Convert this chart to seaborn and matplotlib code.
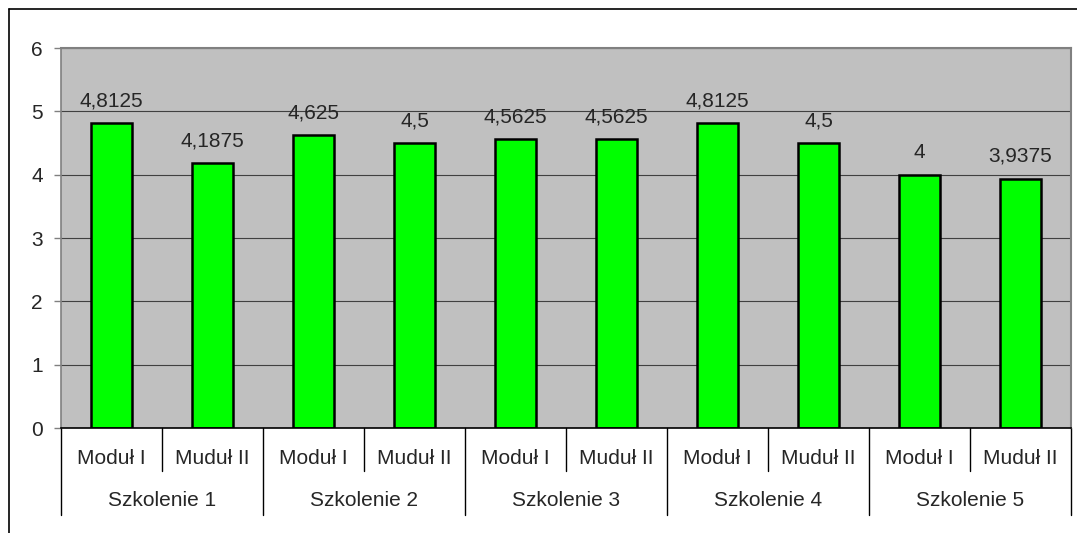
import pandas as pd
import matplotlib.pyplot as plt
import seaborn as sns

# dane
szkolenia = ['Szkolenie 1', 'Szkolenie 2', 'Szkolenie 3', 'Szkolenie 4', 'Szkolenie 5']
moduly = ['Moduł I', 'Muduł II']
wartosci = [4.8125, 4.1875, 4.625, 4.5, 4.5625, 4.5625, 4.8125, 4.5, 4.0, 3.9375]

kategorie = []
for s in szkolenia:
    for m in moduly:
        kategorie.append(s + ' / ' + m)

df = pd.DataFrame({'kategoria': kategorie, 'wartosc': wartosci})

sns.set_style('white')
plt.rcParams['font.family'] = ['Liberation Sans', 'DejaVu Sans']

fig = plt.figure(figsize=(10.77, 5.33), dpi=100)
ax = fig.add_axes([61 / 1077, 1 - 428 / 533, 1010 / 1077, 380 / 533])
ax.set_facecolor('#C0C0C0')

sns.barplot(data=df, x='kategoria', y='wartosc', color='#00FF00',
            edgecolor='black', linewidth=1.8, width=0.41, saturation=1, ax=ax)

# etykiety wartosci
for i, v in enumerate(wartosci):
    txt = ('%g' % v).replace('.', ',')
    ax.text(i, v + 0.2, txt, ha='center', va='bottom', fontsize=15)

ax.set_ylim(0, 6)
ax.set_xlim(-0.5, 9.5)
ax.set_yticks(range(0, 7))
ax.yaxis.grid(True, color='#404040', linewidth=0.8)
ax.set_axisbelow(True)
ax.tick_params(axis='y', left=True, length=5, width=1, color='#808080',
               labelsize=15, pad=8)
ax.set_xticks([])
ax.set_xlabel('')
ax.set_ylabel('')
for side in ['top', 'right']:
    ax.spines[side].set_color('#808080')
    ax.spines[side].set_linewidth(1.5)
ax.spines['left'].set_color('#808080')
ax.spines['left'].set_linewidth(1.2)
ax.spines['bottom'].set_color('black')
ax.spines['bottom'].set_linewidth(1.2)

# opisy osi kategorii
trans = ax.get_xaxis_transform()
y_mod = -30 / 380
y_szk = -72 / 380
y_short = -43 / 380
y_long = -87 / 380
for i in range(10):
    ax.text(i, y_mod, moduly[i % 2], transform=trans, ha='center', va='center',
            fontsize=15)
for j in range(5):
    ax.text(2 * j + 0.5, y_szk, szkolenia[j], transform=trans, ha='center',
            va='center', fontsize=15)
for k in range(11):
    x = k - 0.5
    y_end = y_long if k % 2 == 0 else y_short
    ax.plot([x, x], [0, y_end], transform=trans, color='black', linewidth=1,
            clip_on=False)

# ramka wykresu
fig.add_artist(plt.Line2D([9 / 1077, 9 / 1077], [0, 1 - 9 / 533],
                          color='black', linewidth=1.2))
fig.add_artist(plt.Line2D([9 / 1077, 1], [1 - 9 / 533, 1 - 9 / 533],
                          color='black', linewidth=1.2))

fig.savefig('out.png', dpi=100)
